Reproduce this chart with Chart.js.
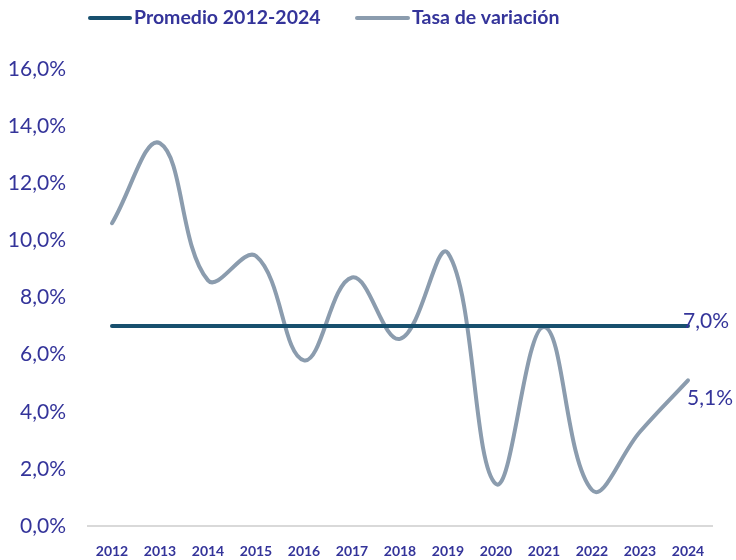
<!DOCTYPE html>
<html><head><meta charset="utf-8">
<script src="https://cdn.jsdelivr.net/npm/chart.js@4/dist/chart.umd.min.js"></script>
<style>html,body{margin:0;padding:0;background:#fff}#wrap{width:736px;height:560px}</style>
</head><body><div id="wrap"><canvas id="c" width="736" height="560"></canvas></div>
<script>
const categories = ['2012','2013','2014','2015','2016','2017','2018','2019','2020','2021','2022','2023','2024'];
const tasaVariacion = [10.6, 13.4, 8.6, 9.45, 5.8, 8.7, 6.55, 9.55, 1.47, 6.97, 1.26, 3.3, 5.1];
const promedio = [7.0, 7.0, 7.0, 7.0, 7.0, 7.0, 7.0, 7.0, 7.0, 7.0, 7.0, 7.0, 7.0];
const yTicks = [0, 2, 4, 6, 8, 10, 12, 14, 16];
const seriesNames = ['Promedio 2012-2024', 'Tasa de variación'];

const TEXT = '#34349a';
const fmt = v => v.toFixed(1).replace('.', ',') + '%';

const legendPlugin = {
  id: 'customLegend',
  afterDraw(chart) {
    const ctx = chart.ctx;
    ctx.save();
    ctx.font = 'bold 19.5px Lato';
    ctx.textBaseline = 'middle';
    const items = [{x: 90, len: 40, tx: 134}, {x: 357, len: 51, tx: 412}];
    chart.data.datasets.forEach((ds, i) => {
      const it = items[i], y = 18;
      ctx.strokeStyle = ds.borderColor;
      ctx.lineWidth = 4;
      ctx.lineCap = 'round';
      ctx.beginPath(); ctx.moveTo(it.x, y); ctx.lineTo(it.x + it.len, y); ctx.stroke();
      ctx.fillStyle = TEXT;
      ctx.textAlign = 'left';
      ctx.fillText(ds.label, it.tx, y);
    });
    ctx.restore();
  }
};

const endLabels = {
  id: 'endLabels',
  afterDatasetsDraw(chart) {
    const ctx = chart.ctx;
    ctx.save();
    ctx.font = '21px Lato';
    ctx.fillStyle = TEXT;
    ctx.textAlign = 'left';
    ctx.textBaseline = 'middle';
    const offsets = [{dx: -5, dy: -5}, {dx: -1, dy: 18}];
    chart.data.datasets.forEach((ds, i) => {
      const meta = chart.getDatasetMeta(i);
      const last = meta.data[meta.data.length - 1];
      const v = ds.data[ds.data.length - 1];
      ctx.fillText(fmt(v), last.x + offsets[i].dx, last.y + offsets[i].dy);
    });
    ctx.restore();
  }
};

new Chart(document.getElementById('c'), {
  type: 'line',
  data: {
    labels: categories,
    datasets: [
      { label: seriesNames[0], data: promedio, borderColor: '#18506e', borderWidth: 4, pointRadius: 0, tension: 0, borderCapStyle: 'round' },
      { label: seriesNames[1], data: tasaVariacion, borderColor: '#8b9cae', borderWidth: 4, pointRadius: 0, tension: 0.4, borderCapStyle: 'round' }
    ]
  },
  options: {
    responsive: false,
    animation: false,
    events: [],
    layout: { padding: { top: 69, right: 24, left: 0, bottom: 0 } },
    plugins: { legend: { display: false }, tooltip: { enabled: false } },
    scales: {
      x: {
        offset: true,
        grid: { display: false },
        border: { display: true, color: '#d9d9d9', width: 2 },
        ticks: { color: TEXT, font: { family: 'Lato', weight: 'bold', size: 14 }, padding: 9, maxRotation: 0 },
        afterFit(s) { s.height = 34; }
      },
      y: {
        min: 0, max: 16,
        afterBuildTicks(s) { s.ticks = yTicks.map(v => ({ value: v })); },
        grid: { display: false },
        border: { display: false },
        ticks: { color: TEXT, font: { family: 'Lato', size: 21 }, padding: 14, callback: v => fmt(v) },
        afterFit(s) { s.width = 88; }
      }
    }
  },
  plugins: [legendPlugin, endLabels]
});
</script></body></html>
